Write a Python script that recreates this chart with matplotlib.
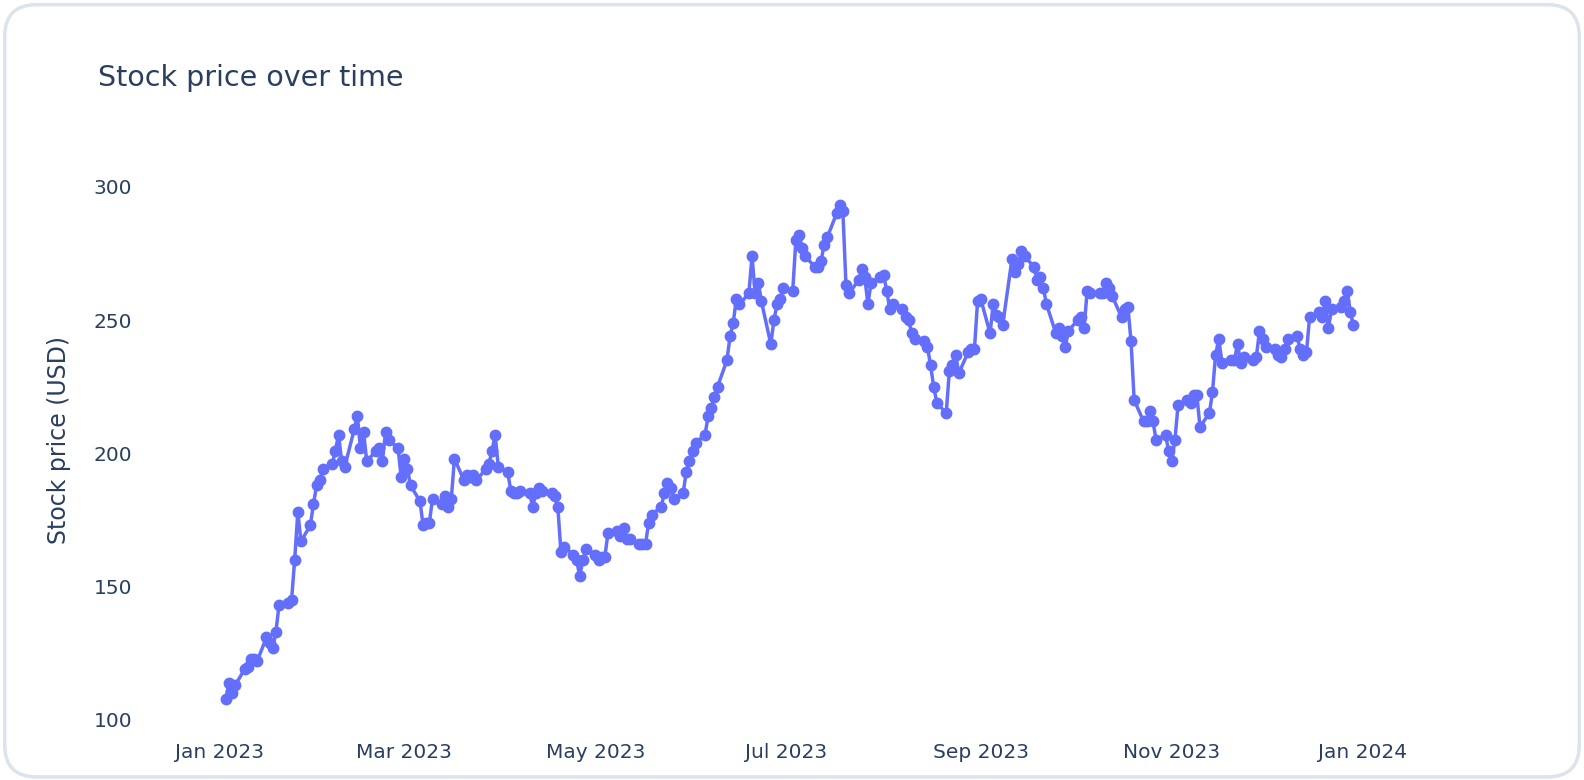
import numpy as np
import pandas as pd
import matplotlib.pyplot as plt
import matplotlib.dates as mdates
from matplotlib.patches import FancyBboxPatch

# daily closing prices, business days from 2023-01-03
prices = [
    108, 114, 110, 113, 119, 120, 123, 123, 122, 131, 129, 127, 133,
    143, 144, 145, 160, 178, 167, 173, 181, 188, 190, 194, 196, 201, 207, 197,
    195, 209, 214, 202, 208, 197, 201, 202, 197, 208, 205, 202, 191, 198,
    194, 188, 182, 173, 174, 174, 183, 181, 184, 180, 183, 198, 190, 192, 191,
    192, 190, 194, 196, 201, 207, 195, 193, 186, 185, 185, 186, 185, 180, 185, 187,
    186, 185, 184, 180, 163, 165, 162, 160, 154, 160, 164, 162, 160, 161, 161, 170,
    171, 169, 172, 168, 168, 166, 166, 166, 174, 177, 180, 185, 189, 187, 183, 185,
    193, 197, 201, 204, 207, 214, 217, 221, 225, 235, 244, 249, 258, 256,
    260, 274, 260, 264, 257, 241, 250, 256, 258, 262, 261, 280, 282, 277,
    274, 270, 270, 272, 278, 281, 290, 293, 291, 263, 260, 265, 269, 266, 256,
    264, 266, 267, 261, 254, 256, 254, 251, 250, 245, 243, 242, 240, 233, 225, 219,
    215, 231, 233, 237, 230, 238, 239, 239, 257, 258, 245, 256, 252, 251,
    248, 273, 268, 271, 276, 274, 270, 265, 266, 262, 256, 245, 247, 244, 240,
    246, 250, 251, 247, 261, 260, 260, 260, 264, 262, 259, 251, 254, 255, 242,
    220, 212, 212, 216, 212, 205, 207, 201, 197, 205, 218, 220, 219, 222, 222,
    210, 215, 223, 237, 243, 234, 235, 235, 241, 234, 236, 235, 236,
    246, 243, 240, 239, 237, 236, 239, 243, 244, 239, 237, 238, 251, 253,
    251, 257, 247, 254, 255, 257, 261, 253, 248,
]
dates = pd.bdate_range("2023-01-03", periods=len(prices))

TEXT = "#2a3f5f"
LINE = "#636efa"

fig = plt.figure(figsize=(15.84, 7.8), dpi=100)
frame = FancyBboxPatch((0.003, 0.004), 0.994, 0.99, boxstyle="round,pad=0,rounding_size=0.02",
                       transform=fig.transFigure, facecolor="white",
                       edgecolor="#dde3ec", linewidth=2.5, mutation_aspect=2.03, zorder=-1)
fig.patches.append(frame)

ax = fig.add_axes([0.101, 0.064, 0.793, 0.744])
ax.plot(dates, prices, color=LINE, linewidth=2.5, marker="o", markersize=7.5)

ax.set_xlim(pd.Timestamp("2022-12-13"), pd.Timestamp("2024-01-18"))
ax.set_ylim(96.2, 313.9)
ax.set_yticks([100, 150, 200, 250, 300])
ax.xaxis.set_major_locator(mdates.MonthLocator(bymonth=[1, 3, 5, 7, 9, 11]))
ax.xaxis.set_major_formatter(mdates.DateFormatter("%b %Y"))
ax.tick_params(length=0, labelsize=14.5, labelcolor=TEXT, pad=9)
ax.tick_params(axis="y", pad=20)
for s in ax.spines.values():
    s.set_visible(False)
ax.patch.set_alpha(0)

ax.set_ylabel("Stock price (USD)", fontsize=17, color=TEXT, labelpad=16)
fig.text(0.062, 0.9, "Stock price over time", fontsize=20.5, color=TEXT, va="center")

fig.savefig("out.png", dpi=100)
